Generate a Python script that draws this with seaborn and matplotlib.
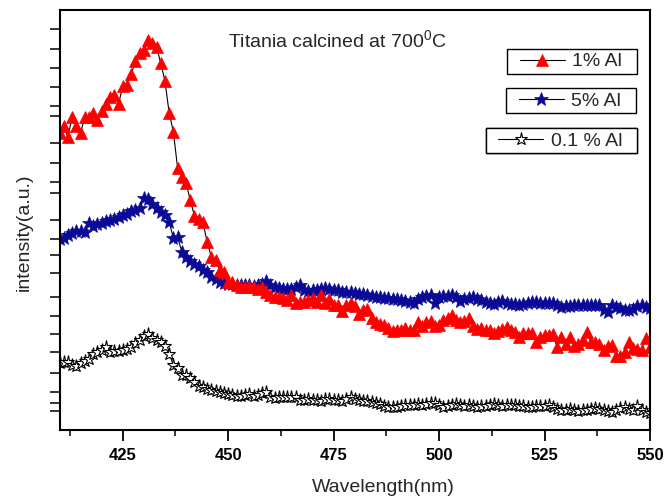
import numpy as np
import pandas as pd
import matplotlib
matplotlib.use("Agg")
import matplotlib.pyplot as plt
import seaborn as sns
from matplotlib.ticker import FixedLocator, MultipleLocator
from matplotlib.legend_handler import HandlerLine2D

# ---------------- data ----------------
wavelength = list(range(410, 551))

al_1pct = [297, 304, 293, 313, 304, 297, 313, 313, 317, 310,
           319, 326, 333, 335, 326, 344, 345, 356, 369, 377,
           380, 390, 387, 383, 367, 349, 317, 298, 262, 253,
           247, 230, 214, 211, 208, 188, 173, 170, 160, 158,
           148, 148, 145, 143, 143, 144, 143, 141, 143, 138,
           135, 133, 133, 132, 130, 135, 127, 128, 128, 130,
           132, 128, 135, 127, 131, 125, 125, 119, 125, 127,
           124, 116, 120, 121, 112, 108, 106, 105, 102, 99,
           100, 100, 102, 100, 100, 108, 104, 108, 109, 104,
           105, 110, 112, 115, 110, 108, 109, 112, 104, 101,
           102, 100, 100, 97, 99, 101, 103, 100, 98, 93,
           97, 97, 97, 88, 93, 95, 95, 96, 83, 93,
           86, 93, 84, 86, 90, 98, 88, 88, 86, 80,
           84, 85, 74, 74, 78, 88, 82, 81, 80, 92,
           83]

al_5pct = [191, 192, 195, 197, 199, 199, 198, 207, 204, 206,
           207, 209, 210, 211, 213, 215, 216, 219, 220, 222,
           232, 231, 226, 222, 218, 215, 208, 192, 193, 178,
           173, 169, 166, 164, 160, 158, 153, 151, 148, 147,
           146, 146, 145, 145, 145, 145, 144, 145, 146, 149,
           145, 143, 142, 141, 141, 141, 143, 145, 140, 139,
           140, 140, 141, 142, 141, 140, 140, 138, 138, 138,
           137, 136, 136, 135, 134, 133, 133, 132, 132, 131,
           131, 130, 129, 128, 127, 131, 133, 134, 135, 127,
           133, 134, 134, 135, 133, 129, 131, 132, 133, 131,
           130, 128, 127, 126, 128, 129, 127, 126, 126, 125,
           126, 127, 128, 128, 127, 127, 127, 127, 125, 123,
           124, 124, 125, 125, 125, 125, 125, 125, 125, 120,
           118, 125, 123, 122, 120, 120, 121, 124, 125, 123,
           122]

al_01pct = [67, 68, 68, 65, 64, 67, 69, 71, 76, 78,
            80, 83, 78, 79, 79, 80, 81, 83, 87, 90,
            94, 96, 92, 90, 88, 84, 76, 65, 62, 55,
            55, 52, 48, 44, 43, 41, 40, 39, 38, 37,
            36, 35, 34, 34, 35, 36, 34, 35, 37, 38,
            33, 32, 33, 33, 33, 33, 33, 30, 30, 31,
            30, 30, 29, 31, 31, 30, 30, 29, 31, 33,
            31, 30, 29, 29, 28, 27, 26, 24, 23, 23,
            23, 24, 25, 25, 25, 26, 25, 26, 27, 27,
            25, 23, 24, 25, 26, 25, 24, 25, 24, 23,
            24, 24, 25, 26, 25, 24, 25, 25, 25, 24,
            24, 23, 23, 24, 24, 24, 25, 23, 21, 20,
            20, 21, 20, 19, 20, 20, 21, 22, 21, 20,
            19, 18, 20, 22, 23, 21, 20, 24, 20, 18,
            17]

series_labels = ["1% Al", "5% Al", "0.1 % Al"]
x_major_ticks = [425, 450, 475, 500, 525, 550]
y_tick_values = [401, 381, 362, 343, 324, 314, 287, 267, 248, 237, 210,
                 191, 175, 157, 133, 114, 96, 78, 57, 38, 27, 19]
title_text = r"Titania calcined at 700$^{\mathregular{0}}$C"

# ---------------- style ----------------
sns.set_style("ticks")
plt.rcParams["font.family"] = ["Liberation Sans", "DejaVu Sans"]
plt.rcParams["mathtext.fontset"] = "custom"
plt.rcParams["mathtext.rm"] = "Liberation Sans"
plt.rcParams["mathtext.it"] = "Liberation Sans:italic"
plt.rcParams["mathtext.bf"] = "Liberation Sans:bold"

fig = plt.figure(figsize=(6.64, 5.01), dpi=100)
ax = fig.add_axes([59.5 / 664, 71 / 501, (650 - 59.5) / 664, 420 / 501])

df = pd.DataFrame({"wl": wavelength, "a1": al_1pct, "a5": al_5pct, "a01": al_01pct})

common = dict(ax=ax, color="black", linewidth=0.8, errorbar=None)
sns.lineplot(data=df, x="wl", y="a01", marker="*", markersize=9.5,
             markerfacecolor="white", markeredgecolor="black",
             markeredgewidth=0.8, label=series_labels[2], **common)
sns.lineplot(data=df, x="wl", y="a5", marker="*", markersize=10.5,
             markerfacecolor="#0a0a96", markeredgecolor="#0a0a96",
             markeredgewidth=0.5, label=series_labels[1], **common)
sns.lineplot(data=df, x="wl", y="a1", marker="^", markersize=8.5,
             markerfacecolor="#ff0000", markeredgecolor="#ff0000",
             markeredgewidth=0.5, label=series_labels[0], **common)

ax.set_xlim(410, 550)
ax.set_ylim(0, 420)

for s in ax.spines.values():
    s.set_visible(True)
    s.set_linewidth(1.5)
    s.set_color("black")

ax.xaxis.set_major_locator(FixedLocator(x_major_ticks))
ax.xaxis.set_minor_locator(MultipleLocator(12.5))
ax.yaxis.set_major_locator(FixedLocator(y_tick_values))
ax.set_yticklabels([])
ax.tick_params(axis="x", which="major", direction="out", length=8, width=1.3,
               labelsize=12, pad=5, colors="black")
ax.tick_params(axis="x", which="minor", direction="out", length=4, width=1.3)
ax.tick_params(axis="y", which="major", direction="out", length=7, width=1.3,
               left=True)
for lab in ax.get_xticklabels():
    lab.set_fontweight("bold")

ax.set_xlabel("Wavelength(nm)", fontsize=14)
ax.xaxis.set_label_coords(0.548, -0.116)
ax.set_ylabel("intensity(a.u.)", fontsize=14)
ax.yaxis.set_label_coords(-0.046, 0.47)

ax.text(0.47, 0.929, title_text, transform=ax.transAxes, ha="center",
        va="center", fontsize=14)

# separate legend boxes
handles, labels = ax.get_legend_handles_labels()
hmap = dict(zip(labels, handles))
if ax.get_legend():
    ax.get_legend().remove()
anchors = [(637 / 664, 1 - 49 / 501), (636 / 664, 1 - 88 / 501), (637 / 664, 1 - 128 / 501)]
for lab, anc in zip(series_labels, anchors):
    leg = ax.legend([hmap[lab]], [lab + "  "], loc="upper right", bbox_to_anchor=anc,
                    bbox_transform=fig.transFigure, borderaxespad=0,
                    fontsize=14, frameon=True, fancybox=False, framealpha=1,
                    edgecolor="black", handlelength=2.75, handletextpad=0.4,
                    borderpad=0.2, shadow=False,
                    handler_map={hmap[lab]: HandlerLine2D(xpad=0.45)})
    leg.get_frame().set_linewidth(1.0)
    ax.add_artist(leg)

fig.savefig("out.png", dpi=100)
